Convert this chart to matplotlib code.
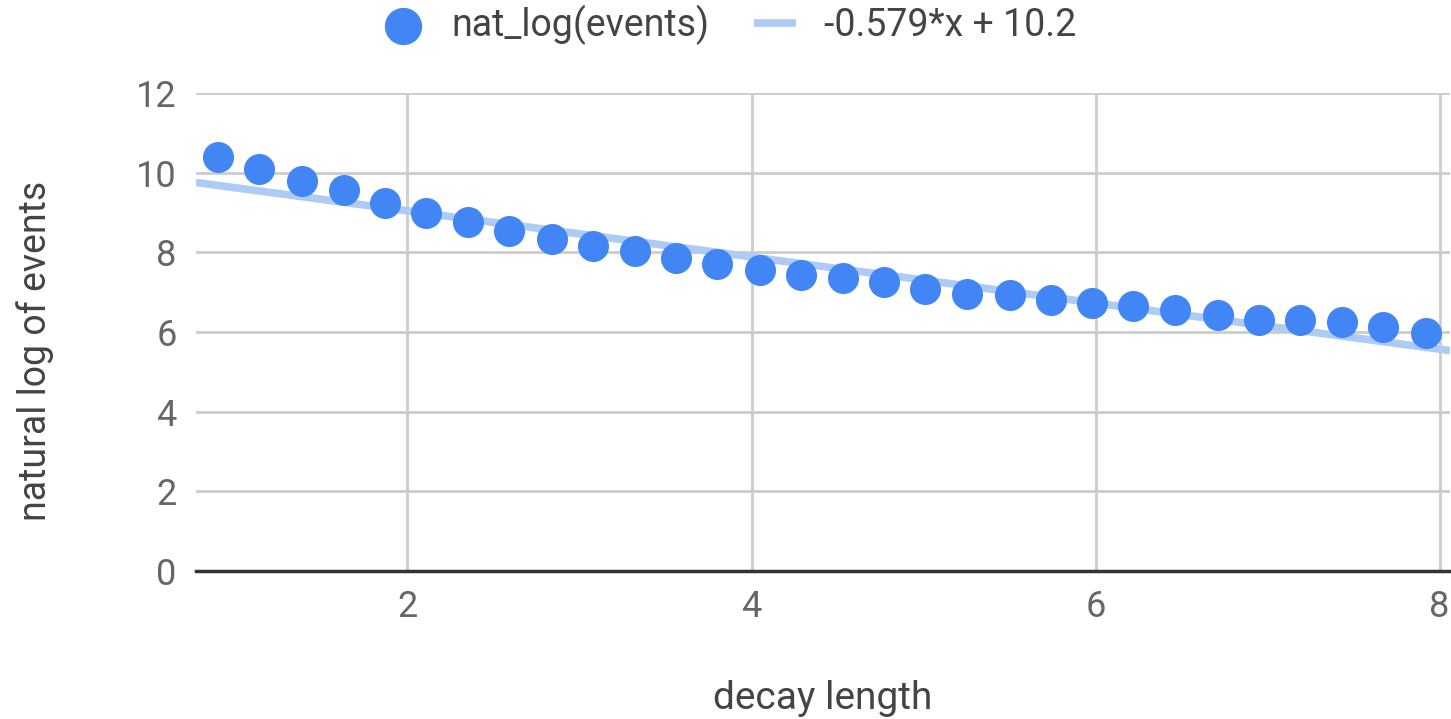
import matplotlib
matplotlib.use("Agg")
import matplotlib.pyplot as plt
import numpy as np

plt.rcParams['font.family'] = ['Roboto', 'DejaVu Sans']

decay_length = [0.90, 1.14, 1.39, 1.63, 1.87, 2.11, 2.35, 2.59, 2.84, 3.08,
                3.32, 3.56, 3.80, 4.05, 4.29, 4.53, 4.77, 5.01, 5.25, 5.50,
                5.74, 5.98, 6.22, 6.46, 6.71, 6.95, 7.19, 7.43, 7.67, 7.92]
nat_log_events = [10.40, 10.09, 9.79, 9.57, 9.24, 8.99, 8.76, 8.54, 8.34, 8.16,
                  8.03, 7.86, 7.71, 7.56, 7.43, 7.36, 7.26, 7.08, 6.95, 6.93,
                  6.80, 6.73, 6.65, 6.55, 6.43, 6.30, 6.30, 6.25, 6.13, 5.98]
slope = -0.579
intercept = 10.2
y_ticks = [0, 2, 4, 6, 8, 10, 12]
x_ticks = [2, 4, 6, 8]
x_range = [0.771, 8.06]

fig = plt.figure(figsize=(14.51, 7.19), dpi=100)
ax = fig.add_axes([196/1451, 1 - 571/719, (1450-196)/1451, (571-93)/719])

ax.set_xlim(*x_range)
ax.set_ylim(0, 12)
ax.set_xticks(x_ticks)
ax.set_yticks(y_ticks)
ax.grid(True, color='#cccccc', linewidth=2)
ax.set_axisbelow(True)
for s in ['top', 'right', 'left']:
    ax.spines[s].set_visible(False)
ax.spines['bottom'].set_color('#333333')
ax.spines['bottom'].set_linewidth(2.5)
ax.spines['bottom'].set_zorder(1)
ax.tick_params(axis='both', length=0, labelsize=26, labelcolor='#666666')
ax.tick_params(axis='x', pad=13)
ax.tick_params(axis='y', pad=14)

xs = np.array(x_range)
trend, = ax.plot(xs, slope * xs + intercept, color='#aecbf5', linewidth=5.5,
                 solid_capstyle='butt', zorder=2, label='-0.579*x + 10.2')
pts = ax.scatter(decay_length, nat_log_events, s=500, color='#4285f4',
                 zorder=3, linewidths=0, label='nat_log(events)')

ax.set_xlabel('decay length', fontsize=28, color='#444444')
ax.xaxis.set_label_coords(0.5, (571 - 680) / 478)
ax.set_ylabel('natural log of events', fontsize=27, color='#444444')
ax.yaxis.set_label_coords((54 - 196) / 1254, (571 - 351) / 478)

leg = fig.legend(handles=[pts, trend], loc='center', bbox_to_anchor=(729/1451, 1 - 25/719),
                 ncol=2, frameon=False, fontsize=27, handlelength=1.1,
                 columnspacing=1.2, handletextpad=0.75, scatterpoints=1,
                 markerscale=1.2)
for t in leg.get_texts():
    t.set_color('#444444')

fig.savefig('out.png', dpi=100)
